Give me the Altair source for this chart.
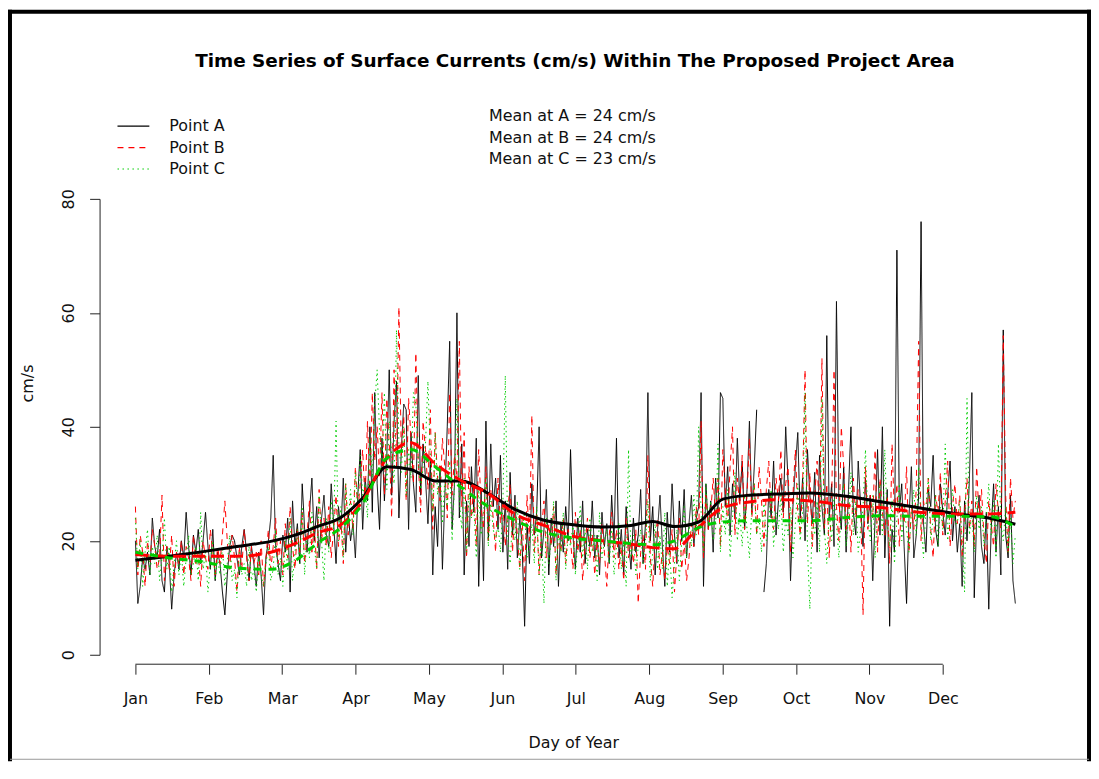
import altair as alt
import pandas as pd

# ---------------- data ----------------
days = list(range(1, 366))

point_a = [
    20, 9, 12, 17, 15, 18, 14, 24, 19, 17,
    22, 13, 11, 19, 16, 8, 14, 18, 15, 20,
    17, 25, 19, 14, 21, 18, 22, 16, 20, 25,
    19, 15, 22, 13, 18, 16, 11, 7, 14, 19,
    21, 20, 17, 14, 19, 22, 18, 13, 19, 16,
    12, 18, 14, 7, 17, 20, 24, 35, 19, 16,
    13, 21, 18, 24, 11, 27, 19, 23, 16, 30,
    22, 18, 25, 31, 20, 26, 17, 24, 28, 21,
    19, 30, 23, 16, 26, 22, 31, 18, 25, 20,
    23, 17, 28, 36, 22, 31, 27, 40, 25, 46,
    30, 22, 38, 27, 35, 50, 28, 41, 48, 24,
    36, 44, 43, 22, 39, 30, 25, 49, 28, 37,
    31, 23, 34, 14, 26, 19, 33, 15, 28, 40,
    55, 22, 30, 60, 24, 37, 14, 27, 19, 33,
    25, 38, 12, 29, 13, 41, 20, 37, 26, 31,
    22, 35, 18, 27, 15, 32, 21, 28, 17, 24,
    19, 5, 23, 16, 30, 21, 25, 40, 17, 22,
    29, 14, 24, 19, 27, 12, 23, 18, 26, 20,
    36, 21, 15, 24, 18, 27, 16, 22, 19, 27,
    17, 21, 14, 25, 19, 23, 16, 28, 20, 38,
    17, 22, 14, 26, 20, 15, 24, 18, 21, 29,
    16, 23, 46, 20, 26, 14, 22, 28, 19, 12,
    25, 18, 30, 21, 16, 27, 20, 29, 17, 23,
    28, 19, 24, 26, 46, 12, 30, 22, 27, 18,
    31, 24, 46, 45, 26, 33, 21, 30, 24, 38,
    27, 34, 22, 29, 41, 25, 33, 43, None, None,
    11, 16, 29, 24, 34, 21, 27, 31, 25, 40,
    30, 13, 26, 33, 39, 24, 31, 20, 36, 28,
    23, 32, 18, 35, 26, 21, 56, 24, 30, 19,
    62, 27, 22, 33, 18, 29, 40, 25, 21, 34,
    26, 19, 31, 23, 28, 13, 24, 36, 21, 40,
    17, 29, 5, 22, 18, 71, 25, 30, 19, 9,
    24, 33, 17, 21, 28, 76, 23, 18, 29, 26,
    35, 22, 19, 30, 25, 21, 28, 34, 20, 26,
    18, 23, 12, 27, 20, 31, 46, 10, 24, 28,
    19, 16, 25, 8, 22, 30, 18, 26, 14, 57,
    21, 17, 28, 13, 9,
]

point_b = [
    26, 14, 21, 18, 12, 20, 16, 22, 19, 15,
    17, 28, 13, 19, 15, 21, 12, 18, 16, 20,
    14, 19, 17, 13, 21, 16, 18, 12, 20, 17,
    15, 22, 18, 14, 19, 16, 21, 27, 20, 15,
    21, 17, 11, 19, 15, 22, 17, 13, 19, 16,
    18, 14, 20, 12, 17, 22, 15, 19, 24, 16,
    20, 14, 23, 17, 26, 19, 15, 22, 18, 25,
    16, 21, 27, 18, 23, 15, 29, 20, 24, 19,
    26, 17, 22, 28, 19, 24, 16, 30, 21, 27,
    22, 33, 25, 30, 36, 27, 41, 29, 46, 34,
    40, 31, 46, 28, 45, 37, 24, 50, 33, 61,
    35, 42, 27, 45, 38, 30, 53, 34, 25, 41,
    36, 29, 43, 22, 39, 31, 27, 38, 33, 24,
    46, 28, 35, 31, 55, 26, 39, 17, 33, 24,
    30, 19, 36, 26, 22, 33, 20, 29, 24, 18,
    31, 23, 27, 19, 25, 30, 18, 26, 21, 15,
    24, 13, 28, 20, 42, 18, 25, 14, 22, 27,
    17, 23, 19, 26, 14, 21, 18, 24, 16, 22,
    20, 15, 25, 18, 22, 13, 19, 24, 17, 21,
    14, 20, 16, 23, 18, 12, 21, 25, 17, 22,
    15, 19, 13, 24, 17, 20, 16, 22, 9, 18,
    21, 15, 35, 17, 12, 20, 24, 14, 18, 13,
    19, 16, 22, 11, 18, 24, 15, 20, 13, 17,
    23, 19, 26, 21, 41, 17, 28, 22, 25, 31,
    24, 31, 19, 36, 29, 23, 33, 40, 21, 31,
    26, 35, 22, 28, 38, 24, 30, 21, 33, 27,
    19, 29, 34, 25, 22, 31, 27, 36, 24, 30,
    33, 18, 28, 36, 25, 21, 30, 50, 23, 32,
    19, 28, 34, 24, 52, 22, 30, 17, 27, 50,
    26, 20, 40, 33, 22, 28, 18, 31, 24, 29,
    26, 7, 33, 22, 28, 24, 36, 18, 31, 25,
    21, 28, 16, 37, 24, 30, 19, 27, 23, 33,
    18, 26, 22, 29, 55, 20, 27, 24, 31, 22,
    17, 28, 25, 32, 21, 27, 34, 19, 26, 30,
    23, 28, 17, 25, 31, 22, 27, 19, 33, 24,
    29, 21, 16, 27, 23, 19, 30, 25, 22, 56,
    28, 18, 31, 24, 27,
]

point_c = [
    24, 15, 20, 12, 18, 22, 14, 19, 16, 21,
    13, 17, 24, 15, 19, 11, 16, 20, 14, 18,
    12, 17, 21, 14, 16, 19, 13, 25, 15, 18,
    11, 16, 20, 13, 17, 14, 19, 12, 16, 21,
    13, 15, 10, 18, 14, 16, 12, 19, 13, 15,
    11, 17, 14, 12, 16, 19, 13, 15, 22, 14,
    17, 12, 20, 15, 24, 13, 18, 22, 16, 26,
    14, 21, 17, 25, 19, 15, 28, 20, 13, 24,
    18, 27, 22, 41, 20, 26, 17, 30, 23, 29,
    21, 32, 26, 35, 28, 30, 24, 38, 31, 44,
    50, 39, 33, 46, 29, 41, 35, 30, 57, 37,
    32, 40, 28, 36, 31, 46, 44, 34, 29, 33,
    37, 48, 35, 25, 39, 28, 33, 23, 31, 26,
    34, 20, 30, 45, 27, 22, 31, 18, 28, 24,
    26, 17, 29, 21, 25, 31, 19, 27, 22, 20,
    23, 18, 26, 49, 21, 16, 24, 20, 27, 15,
    22, 25, 17, 19, 23, 16, 26, 14, 21, 9,
    24, 16, 20, 27, 13, 22, 18, 25, 15, 21,
    19, 23, 14, 20, 26, 17, 22, 15, 24, 18,
    21, 13, 25, 17, 20, 22, 16, 22, 14, 19,
    23, 15, 20, 12, 36, 17, 21, 14, 19, 22,
    16, 20, 27, 13, 18, 23, 15, 21, 15, 25,
    12, 19, 10, 16, 22, 13, 20, 26, 17, 23,
    19, 28, 21, 40, 25, 18, 30, 23, 27, 20,
    22, 37, 18, 26, 21, 29, 17, 24, 32, 20,
    25, 19, 28, 22, 17, 26, 30, 21, 24, 18,
    27, 20, 23, 29, 19, 25, 22, 28, 18, 24,
    21, 26, 17, 23, 30, 20, 25, 46, 19, 8,
    24, 21, 27, 18, 45, 22, 16, 25, 20, 28,
    23, 17, 26, 30, 19, 24, 32, 21, 27, 18,
    22, 26, 36, 24, 20, 28, 17, 25, 30, 21,
    36, 23, 19, 27, 16, 24, 30, 20, 26, 22,
    18, 25, 29, 21, 33, 23, 17, 26, 31, 20,
    24, 28, 19, 26, 22, 37, 20, 25, 29, 23,
    23, 27, 20, 11, 45, 21, 25, 18, 28, 22,
    26, 19, 24, 30, 21, 27, 17, 37, 23, 20,
    26, 18, 24, 16, 21,
]

smooth_days = [1, 15, 29, 43, 57, 67, 77, 86, 95, 105, 115, 125, 136, 147, 158, 170,
               182, 194, 206, 215, 224, 234, 244, 255, 266, 280, 295, 310, 325, 340, 355, 365]
smooth_a = [16.6, 17.3, 18.1, 19.0, 19.9, 21.0, 22.6, 24.1, 27.5, 33.0, 32.5, 30.5, 30.5, 28.3, 25.5, 23.6,
            22.8, 22.4, 22.7, 23.4, 22.5, 23.3, 27.3, 28.0, 28.2, 28.4, 27.8, 26.8, 25.8, 24.8, 23.9, 22.9]
smooth_b = [17.6, 17.3, 17.3, 17.3, 18.0, 19.5, 21.5, 22.8, 27.0, 34.5, 37.2, 33.5, 30.5, 28.3, 24.7, 22.7,
            20.8, 20.0, 19.4, 18.8, 18.6, 22.4, 25.8, 26.8, 27.2, 27.0, 26.2, 25.8, 25.0, 24.7, 24.7, 25.0]
smooth_c = [18.0, 17.0, 16.3, 15.2, 15.0, 16.5, 19.8, 22.3, 26.5, 34.5, 36.0, 33.0, 29.3, 26.0, 23.6, 21.5,
            20.5, 20.0, 19.5, 19.3, 20.0, 22.3, 23.3, 23.5, 23.5, 23.5, 24.1, 24.4, 24.3, 24.3, 24.2, 22.4]

series_names = ["Point A", "Point B", "Point C"]
series_colors = ["#000000", "#FF0000", "#00CD00"]
month_labels = ["Jan", "Feb", "Mar", "Apr", "May", "Jun", "Jul", "Aug", "Sep", "Oct", "Nov", "Dec"]
tick_step = 334 / 11
tick_days = [1 + i * tick_step for i in range(12)]
y_ticks = [0, 20, 40, 60, 80]
title_text = "Time Series of Surface Currents (cm/s) Within The Proposed Project Area"
mean_lines = ["Mean at A = 24 cm/s", "Mean at B = 24 cm/s", "Mean at C = 23 cm/s"]

FONT = "DejaVu Sans"
W, H = 884, 458

# ---------------- tables ----------------
raw = pd.DataFrame({
    "day": days * 3,
    "value": point_a + point_b + point_c,
    "series": [series_names[0]] * 365 + [series_names[1]] * 365 + [series_names[2]] * 365,
})
sm_a = pd.DataFrame({"day": smooth_days, "value": smooth_a})
sm_b = pd.DataFrame({"day": smooth_days, "value": smooth_b})
sm_c = pd.DataFrame({"day": smooth_days, "value": smooth_c})
title_df = pd.DataFrame({"label": [title_text]})
mean_df = pd.DataFrame({"label": ["\n".join(mean_lines)]})
dummy = pd.DataFrame({"k": [0]})

month_js = "[" + ",".join("'%s'" % m for m in month_labels) + "]"

x_enc = alt.X(
    "day:Q",
    scale=alt.Scale(domain=[1, 365], nice=False, zero=False),
    axis=alt.Axis(
        values=tick_days, labelExpr=f"{month_js}[round((datum.value - 1) / {tick_step})]",
        offset=9.5, domain=False, grid=False, tickSize=10, tickColor="#222",
        labelFont=FONT, labelFontSize=16, labelColor="#111", labelPadding=16,
        labelFlush=False, labelOverlap=False, labelBaseline="top",
        title="Day of Year", titleFont=FONT, titleFontSize=16, titleFontWeight="normal",
        titleColor="#111", titleBaseline="alphabetic", titleY=83.5, titleX=W / 2 - 2,
        titleAlign="center",
    ),
)
y_enc = alt.Y(
    "value:Q",
    scale=alt.Scale(domain=[0, 80], nice=False, zero=True),
    axis=alt.Axis(
        values=y_ticks, offset=36, domain=True, domainColor="#222", grid=False,
        tickSize=10, tickColor="#222", labelAngle=270, labelAlign="center",
        labelBaseline="alphabetic", labelPadding=16, labelFont=FONT, labelFontSize=16,
        labelColor="#111", labelFlush=False,
        title="cm/s", titleFont=FONT, titleFontSize=16, titleFontWeight="normal",
        titleColor="#111", titleAngle=270, titleAlign="center", titleBaseline="alphabetic",
        titleX=-67, titleY=185,
    ),
)

legend = alt.Legend(
    orient="none", legendX=-11, legendY=-82, title=None,
    symbolType="M-2,0H2", symbolSize=256, symbolStrokeWidth=1.2,
    symbolFillColor="transparent", labelFont=FONT, labelFontSize=16,
    labelColor="#111", labelOffset=27, rowPadding=4.5, padding=0,
)

thin = alt.Chart(raw).mark_line(strokeWidth=1).encode(
    x=x_enc, y=y_enc,
    color=alt.Color("series:N", scale=alt.Scale(domain=series_names, range=series_colors), legend=legend),
    strokeDash=alt.StrokeDash("series:N", scale=alt.Scale(domain=series_names,
                              range=[[1, 0], [6, 5], [1.5, 3.5]]), legend=legend),
    order=alt.Order("day:Q"),
)

s_a = alt.Chart(sm_a).mark_line(strokeWidth=3, color="#000000", interpolate="monotone").encode(x=x_enc, y=y_enc)
s_b = alt.Chart(sm_b).mark_line(strokeWidth=3, color="#FF0000", strokeDash=[13, 6], interpolate="monotone").encode(x=x_enc, y=y_enc)
s_c = alt.Chart(sm_c).mark_line(strokeWidth=3, color="#00CD00", strokeDash=[8, 7], interpolate="monotone").encode(x=x_enc, y=y_enc)

x_line = alt.Chart(dummy).mark_rule(color="#222", strokeWidth=1).encode(
    x=alt.datum(tick_days[0]), x2=alt.datum(tick_days[-1]), y=alt.value(H + 9.5)
)

title_mark = alt.Chart(title_df).mark_text(
    font=FONT, fontSize=18.5, fontWeight="bold", align="center", baseline="alphabetic", color="#000"
).encode(x=alt.value(W / 2 - 0.5), y=alt.value(-132.5), text="label:N")

mean_mark = alt.Chart(mean_df).mark_text(
    font=FONT, fontSize=16, align="center", baseline="alphabetic", color="#111",
    lineBreak="\n", lineHeight=21.5
).encode(x=alt.value(439), y=alt.value(-78), text="label:N")

# frame of the original screenshot
b_top = alt.Chart(dummy).mark_rule(color="#000", strokeWidth=4).encode(
    x=alt.value(-128), x2=alt.value(960), y=alt.value(-188))
b_left = alt.Chart(dummy).mark_rule(color="#000", strokeWidth=4).encode(
    x=alt.value(-126), y=alt.value(-190), y2=alt.value(565))
b_right = alt.Chart(dummy).mark_rule(color="#000", strokeWidth=4).encode(
    x=alt.value(958), y=alt.value(-190), y2=alt.value(565))
b_bottom = alt.Chart(dummy).mark_rule(color="#999", strokeWidth=1).encode(
    x=alt.value(-126), x2=alt.value(958), y=alt.value(563))

chart = alt.layer(
    thin, s_a, s_b, s_c, x_line, title_mark, mean_mark, b_top, b_left, b_right, b_bottom
).properties(
    width=W, height=H,
    autosize=alt.AutoSizeParams(type="none"),
    padding={"left": 128, "top": 190, "right": 76, "bottom": 107},
    background="white",
).configure_view(stroke=None)

chart.save("out.html", embed_options={"renderer": "svg", "actions": False})
